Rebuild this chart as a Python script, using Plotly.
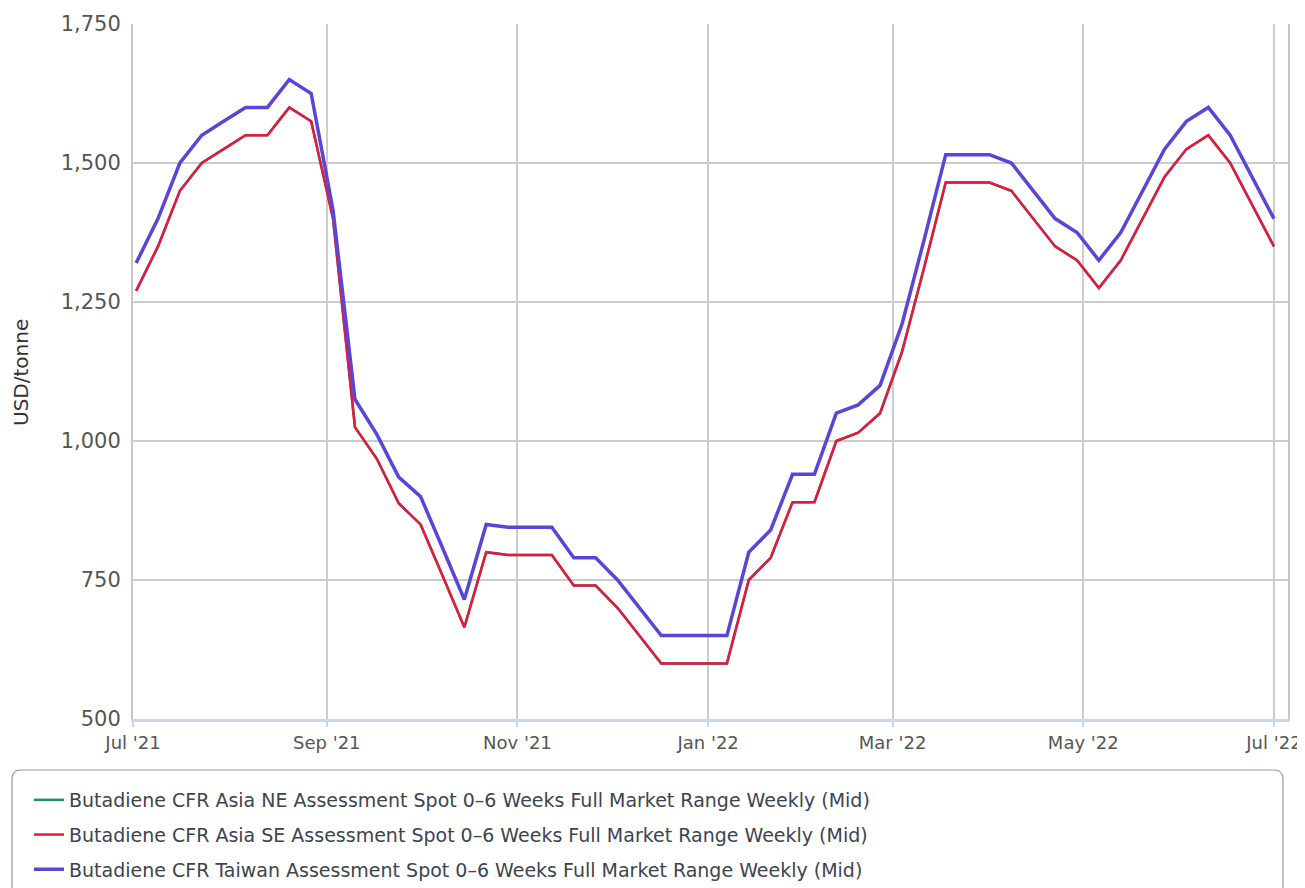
import plotly.graph_objects as go
import pandas as pd

# ---- data ----
dates = pd.date_range("2021-07-02", periods=53, freq="7D")

taiwan = [1320, 1400, 1500, 1550, 1575, 1600, 1600, 1650, 1625, 1415,
          1075, 1012, 935, 900, 808, 715, 850, 845, 845, 845,
          790, 790, 750, 700, 650, 650, 650, 650, 800, 840,
          940, 940, 1050, 1065, 1100, 1210, 1360, 1515, 1515, 1515,
          1500, 1450, 1400, 1375, 1325, 1375, 1450, 1525, 1575, 1600,
          1550, 1475, 1400]

asia_se = [1270, 1350, 1450, 1500, 1525, 1550, 1550, 1600, 1575, 1400,
           1025, 968, 888, 850, 758, 665, 800, 795, 795, 795,
           740, 740, 700, 650, 600, 600, 600, 600, 750, 790,
           890, 890, 1000, 1015, 1050, 1160, 1310, 1465, 1465, 1465,
           1450, 1400, 1350, 1325, 1275, 1325, 1400, 1475, 1525, 1550,
           1500, 1425, 1350]

asia_ne = [1270, 1350, 1450, 1500, 1525, 1550, 1550, 1600, 1575, 1400,
           1025, 968, 888, 850, 758, 665, 800, 795, 795, 795,
           740, 740, 700, 650, 600, 600, 600, 600, 750, 790,
           890, 890, 1000, 1015, 1050, 1160, 1310, 1465, 1465, 1465,
           1450, 1400, 1350, 1325, 1275, 1325, 1400, 1475, 1525, 1550,
           1500, 1425, 1350]

names = [
    "Butadiene CFR Asia NE Assessment Spot 0–6 Weeks Full Market Range Weekly (Mid)",
    "Butadiene CFR Asia SE Assessment Spot 0–6 Weeks Full Market Range Weekly (Mid)",
    "Butadiene CFR Taiwan Assessment Spot 0–6 Weeks Full Market Range Weekly (Mid)",
]
colors = ["#1f8a70", "#e8183c", "#5b45d9"]
widths = [2.5, 2.5, 3.5]
series = [asia_ne, asia_se, taiwan]

y_ticks = [500, 750, 1000, 1250, 1500, 1750]

FONT = "DejaVu Sans"

fig = go.Figure()
for i, (nm, col, w, ys) in enumerate(zip(names, colors, widths, series)):
    fig.add_trace(go.Scatter(
        x=dates, y=ys, mode="lines", name=nm,
        line=dict(color=col, width=w),
        legendgroup=f"g{i}",
    ))

# page offset caused by default body margin
OX, OY = 8, 8
W, H = 1305 - OX, 888 - OY
# plot area in page pixels
L, R, T, B = 133, 1288, 24, 719
pw, ph = R - L, B - T

def px(x):
    return (x - L) / pw

def py(y):
    return (B - y) / ph

# rounded legend box (page pixels)
x0, x1, y0, y1, r = 12, 1283, 770, 905, 9
rx, ry = r / pw, r / ph
path = (f"M {px(x0)+rx},{py(y0)} L {px(x1)-rx},{py(y0)} "
        f"Q {px(x1)},{py(y0)} {px(x1)},{py(y0)-ry} "
        f"L {px(x1)},{py(y1)+ry} Q {px(x1)},{py(y1)} {px(x1)-rx},{py(y1)} "
        f"L {px(x0)+rx},{py(y1)} Q {px(x0)},{py(y1)} {px(x0)},{py(y1)+ry} "
        f"L {px(x0)},{py(y0)-ry} Q {px(x0)},{py(y0)} {px(x0)+rx},{py(y0)} Z")

fig.update_layout(
    width=W, height=H,
    margin=dict(l=L - OX, r=(W + OX) - R, t=T - OY, b=(H + OY) - B, autoexpand=False),
    paper_bgcolor="white", plot_bgcolor="white",
    font=dict(family=FONT, color="#555555"),
    showlegend=True,
    legend=dict(
        x=px(29), y=py(781), xanchor="left", yanchor="top",
        orientation="v", tracegroupgap=7,
        font=dict(family=FONT, size=19, color="#3d4450"),
        bgcolor="rgba(0,0,0,0)",
    ),
    shapes=[dict(type="path", path=path, xref="paper", yref="paper",
                 line=dict(color="#9a9a9a", width=1.2), fillcolor="rgba(0,0,0,0)",
                 layer="below")],
    annotations=[dict(text="USD/tonne", x=px(21), y=py(373), xref="paper", yref="paper",
                      textangle=-90, showarrow=False, xanchor="center", yanchor="middle",
                      font=dict(family=FONT, size=20, color="#333333"))],
    hovermode="x unified",
)

fig.update_xaxes(
    type="date",
    range=["2021-07-01", "2022-07-05 12:00"],
    tick0="2021-07-01", dtick="M2", tickformat="%b '%y",
    showgrid=True, gridcolor="#cccccc", gridwidth=1.5,
    showline=True, linecolor="#ccd6eb", linewidth=3,
    ticks="outside", ticklen=5, tickcolor="#ccd6eb", tickwidth=1.5,
    tickfont=dict(family=FONT, size=18, color="#555555"),
    zeroline=False,
)

fig.update_yaxes(
    range=[500, 1750], tickvals=y_ticks, tickformat=",",
    showgrid=True, gridcolor="#cccccc", gridwidth=1.5,
    showline=True, linecolor="#c6c6c6", linewidth=2, mirror=True,
    ticks="", tickfont=dict(family=FONT, size=21, color="#555555"),
    ticklabelstandoff=6,
    zeroline=False,
)

fig.write_html("out.html")
